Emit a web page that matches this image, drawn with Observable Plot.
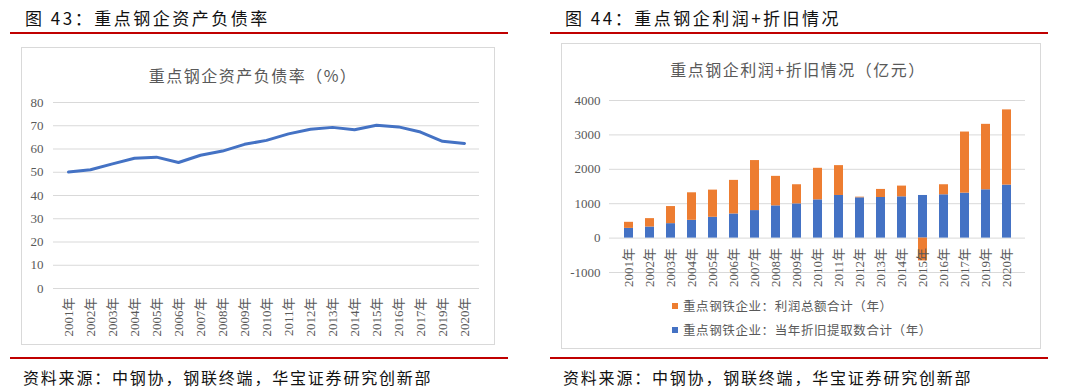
<!DOCTYPE html>
<html><head><meta charset="utf-8">
<script src="https://cdn.jsdelivr.net/npm/d3@7"></script>
<script src="https://cdn.jsdelivr.net/npm/@observablehq/plot@0.6"></script>
<style>
html,body{margin:0;padding:0;background:#fff;}
body{width:1080px;height:388px;overflow:hidden;position:relative;font-family:"Noto Sans CJK SC","Noto Sans",sans-serif;}
.abs{position:absolute;white-space:nowrap;}
.fig{font-size:17px;letter-spacing:2.5px;color:#111;line-height:20px;}
.rule{height:2px;background:#c00000;}
.box{border:1px solid #d9d9d9;box-sizing:border-box;}
.ctitle{font-size:16px;letter-spacing:1.5px;color:#595959;line-height:20px;transform:translateX(-50%);}
.src{font-size:16px;letter-spacing:1.8px;color:#111;line-height:20px;}
.leg{font-size:12.5px;letter-spacing:0.6px;color:#595959;line-height:16px;}
.sw{width:6px;height:6px;}
svg{overflow:visible;}
</style></head><body>
<script>
// ---- data ----
const years = ["2001年","2002年","2003年","2004年","2005年","2006年","2007年","2008年","2009年","2010年","2011年","2012年","2013年","2014年","2015年","2016年","2017年","2019年","2020年"];
const debtRatio = [50.1, 51.1, 53.6, 56.0, 56.5, 54.2, 57.3, 59.1, 62.0, 63.7, 66.5, 68.5, 69.3, 68.3, 70.2, 69.5, 67.3, 63.3, 62.4];
const depreciation = [283, 322, 420, 517, 605, 702, 800, 937, 995, 1112, 1239, 1171, 1180, 1200, 1239, 1259, 1307, 1405, 1541];
const profit = [176, 244, 497, 800, 790, 976, 1454, 858, 556, 917, 868, 19, 235, 312, -663, 292, 1776, 1902, 2186];
const seriesNames = ["重点钢铁企业：利润总额合计（年）", "重点钢铁企业：当年折旧提取数合计（年）"];
const seriesColors = ["#ed7d31", "#4472c4"];
const leftYTicks = [0, 10, 20, 30, 40, 50, 60, 70, 80];
const rightYTicks = [-1000, 0, 1000, 2000, 3000, 4000];
const figTitles = ["图 43：重点钢企资产负债率", "图 44：重点钢企利润+折旧情况"];
const chartTitles = ["重点钢企资产负债率（%）", "重点钢企利润+折旧情况（亿元）"];
const sourceText = "资料来源：中钢协，钢联终端，华宝证券研究创新部";

// ---- helpers ----
function el(cls, css, text) {
  const d = document.createElement("div");
  d.className = "abs " + cls;
  Object.assign(d.style, css);
  if (text != null) d.textContent = text;
  document.body.appendChild(d);
  return d;
}
const serif = '"Liberation Serif","Noto Sans CJK SC",serif';

// ---- chrome ----
el("box", {left: "21px", top: "47px", width: "474px", height: "298px"});
el("box", {left: "561px", top: "43px", width: "480px", height: "306px"});

// ---- left chart ----
const lineData = years.map((y, i) => ({year: y, ratio: debtRatio[i]}));
const left = Plot.plot({
  width: 540, height: 260,
  marginLeft: 53, marginRight: 61, marginTop: 12, marginBottom: 62,
  style: {background: "transparent", color: "#595959", fontFamily: serif, fontSize: "13px"},
  x: {type: "point", domain: years, padding: 0.5, axis: null},
  y: {domain: [0, 80], axis: null},
  marks: [
    Plot.ruleY(leftYTicks, {stroke: "#d9d9d9", strokeWidth: 1}),
    Plot.axisY(leftYTicks, {tickSize: 0, tickPadding: 10, label: null, fontSize: 13}),
    Plot.line(lineData, {x: "year", y: "ratio", stroke: "#4472c4", strokeWidth: 3, curve: "linear", strokeLinejoin: "round", strokeLinecap: "round"}),
    Plot.text(years, {x: d => d, y: 0, text: d => d, rotate: -90, textAnchor: "end", lineAnchor: "middle", dy: 9, fontSize: 13, fill: "#595959"})
  ]
});
const lw = el("", {left: "0px", top: "90px"});
lw.appendChild(left);

// ---- right chart ----
const barData = [];
years.forEach((y, i) => {
  barData.push({year: y, series: seriesNames[1], value: depreciation[i]});
  barData.push({year: y, series: seriesNames[0], value: profit[i]});
});
const right = Plot.plot({
  width: 540, height: 260,
  marginLeft: 69, marginRight: 55, marginTop: 10, marginBottom: 78,
  style: {background: "transparent", color: "#595959", fontFamily: serif, fontSize: "13px"},
  x: {type: "band", domain: years, padding: 0.58, align: 0.5, axis: null},
  y: {domain: [-1000, 4000], axis: null},
  color: {domain: seriesNames, range: seriesColors},
  marks: [
    Plot.ruleY(rightYTicks, {stroke: "#d9d9d9", strokeWidth: 1}),
    Plot.axisY(rightYTicks, {tickSize: 0, tickPadding: 9, label: null, fontSize: 13, tickFormat: d => String(d)}),
    Plot.barY(barData, Plot.stackY({x: "year", y: "value", fill: "series", order: null})),
    Plot.text(years, {x: d => d, y: 0, text: d => d, rotate: -90, textAnchor: "end", lineAnchor: "middle", dy: 10, fontSize: 13, fill: "#595959"})
  ]
});
const rw = el("", {left: "540px", top: "90px"});
rw.appendChild(right);

// ---- texts on top ----
el("fig", {left: "25px", top: "8px"}, figTitles[0]);
el("fig", {left: "565px", top: "8px"}, figTitles[1]);
el("rule", {left: "10px", top: "32px", width: "498px"});
el("rule", {left: "550px", top: "32px", width: "498px"});
el("ctitle", {left: "253px", top: "65px"}, chartTitles[0]);
el("ctitle", {left: "798px", top: "59px"}, chartTitles[1]);
el("sw", {left: "672px", top: "303px", background: seriesColors[0]});
el("sw", {left: "672px", top: "327px", background: seriesColors[1]});
el("leg", {left: "683px", top: "298px"}, seriesNames[0]);
el("leg", {left: "683px", top: "322px"}, seriesNames[1]);
el("rule", {left: "10px", top: "357px", width: "498px"});
el("rule", {left: "550px", top: "357px", width: "498px"});
el("src", {left: "23px", top: "367px"}, sourceText);
el("src", {left: "563px", top: "367px"}, sourceText);
</script>
</body></html>
